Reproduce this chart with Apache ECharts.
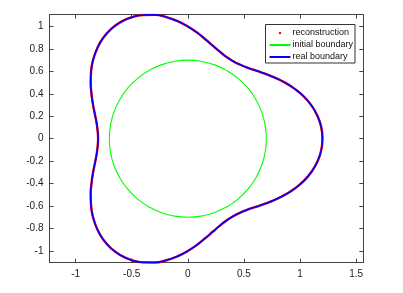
<!DOCTYPE html>
<html>
<head>
<meta charset="utf-8">
<script src="https://cdn.jsdelivr.net/npm/echarts@6/dist/echarts.min.js"></script>
<style>html,body{margin:0;padding:0;background:#fff}#c{width:403px;height:293px}</style>
</head>
<body>
<div id="c"></div>
<script>
// real boundary points
var boundaryX = [1.2, 1.189, 1.155, 1.103, 1.034, 0.953, 0.866, 0.777, 0.689, 0.607, 0.531, 0.463, 0.4, 0.341, 0.283, 0.222, 0.156, 0.083, 0, -0.092, -0.191, -0.295, -0.401, -0.504, -0.6, -0.684, -0.754, -0.807, -0.843, -0.862, -0.866, -0.859, -0.846, -0.829, -0.814, -0.804, -0.8,
  -0.804, -0.814, -0.829, -0.846, -0.859, -0.866, -0.862, -0.843, -0.807, -0.754, -0.684, -0.6, -0.504, -0.401, -0.295, -0.191, -0.092, 0, 0.083, 0.156, 0.222, 0.283, 0.341, 0.4, 0.463, 0.531, 0.607, 0.689, 0.777, 0.866, 0.953, 1.034, 1.103, 1.155, 1.189, 1.2];
var boundaryY = [0, 0.104, 0.204, 0.295, 0.376, 0.444, 0.5, 0.544, 0.579, 0.607, 0.633, 0.661, 0.693, 0.731, 0.777, 0.829, 0.886, 0.945, 1.0, 1.048, 1.083, 1.103, 1.102, 1.081, 1.039, 0.977, 0.899, 0.807, 0.707, 0.603, 0.5, 0.401, 0.308, 0.222, 0.144, 0.07, 0,
  -0.07, -0.144, -0.222, -0.308, -0.401, -0.5, -0.603, -0.707, -0.807, -0.899, -0.977, -1.039, -1.081, -1.102, -1.103, -1.083, -1.048, -1.0, -0.945, -0.886, -0.829, -0.777, -0.731, -0.693, -0.661, -0.633, -0.607, -0.579, -0.544, -0.5, -0.444, -0.376, -0.295, -0.204, -0.104, 0];
// reconstruction coincides with the real boundary
var reconX = boundaryX;
var reconY = boundaryY;
// initial boundary (circle of radius 0.7)
var initX = [0.7, 0.689, 0.658, 0.606, 0.536, 0.45, 0.35, 0.239, 0.122, 0, -0.122, -0.239, -0.35, -0.45, -0.536, -0.606, -0.658, -0.689, -0.7, -0.689, -0.658, -0.606, -0.536, -0.45, -0.35, -0.239, -0.122, 0, 0.122, 0.239, 0.35, 0.45, 0.536, 0.606, 0.658, 0.689, 0.7];
var initY = [0, 0.122, 0.239, 0.35, 0.45, 0.536, 0.606, 0.658, 0.689, 0.7, 0.689, 0.658, 0.606, 0.536, 0.45, 0.35, 0.239, 0.122, 0, -0.122, -0.239, -0.35, -0.45, -0.536, -0.606, -0.658, -0.689, -0.7, -0.689, -0.658, -0.606, -0.536, -0.45, -0.35, -0.239, -0.122, 0];
var xTicks = [-1, -0.5, 0, 0.5, 1, 1.5];
var yTicks = [-1, -0.8, -0.6, -0.4, -0.2, 0, 0.2, 0.4, 0.6, 0.8, 1];
var legendNames = ['reconstruction', 'initial boundary', 'real boundary'];

function pairs(xs, ys) { return xs.map(function (x, i) { return [x, ys[i]]; }); }

var font = 'Liberation Sans, Arial, sans-serif';
var axisCol = '#444';
function xAx(pos, labels) {
  return {
    type: 'value', position: pos, min: -1.233, max: 1.564,
    axisLine: { show: true, onZero: false, lineStyle: { color: axisCol, width: 1 } },
    axisTick: { show: true, inside: true, length: 4, customValues: xTicks, lineStyle: { color: axisCol } },
    axisLabel: { show: labels, customValues: xTicks, margin: 7, fontSize: 10, fontFamily: font, color: '#222' },
    splitLine: { show: false }
  };
}
function yAx(pos, labels) {
  return {
    type: 'value', position: pos, min: -1.105, max: 1.105,
    axisLine: { show: true, onZero: false, lineStyle: { color: axisCol, width: 1 } },
    axisTick: { show: true, inside: true, length: 4, customValues: yTicks, lineStyle: { color: axisCol } },
    axisLabel: { show: labels, customValues: yTicks, margin: 6, fontSize: 10, fontFamily: font, color: '#222' },
    splitLine: { show: false }
  };
}

var chart = echarts.init(document.getElementById('c'), null, { renderer: 'canvas' });
chart.setOption({
  animation: false,
  backgroundColor: '#fff',
  grid: { left: 49.5, right: 39.7, top: 14.7, bottom: 30.3, containLabel: false },
  xAxis: [xAx('bottom', true), xAx('top', false)],
  yAxis: [yAx('left', true), yAx('right', false)],
  series: [
    { name: legendNames[0], type: 'line', data: pairs(reconX, reconY), smooth: true, showSymbol: false,
      lineStyle: { color: '#ff0000', width: 2.4 }, z: 2 },
    { name: legendNames[1], type: 'line', data: pairs(initX, initY), smooth: true, showSymbol: false,
      lineStyle: { color: '#00ff00', width: 1.1 }, z: 3 },
    { name: legendNames[2], type: 'line', data: pairs(boundaryX, boundaryY), smooth: true, showSymbol: false,
      lineStyle: { color: '#0000ff', width: 1.6 }, z: 4 }
  ],
  graphic: [
    { type: 'rect', z: 100, shape: { x: 265.5, y: 24.5, width: 89.5, height: 38.5 },
      style: { fill: '#fff', stroke: '#333', lineWidth: 1 } },
    { type: 'circle', z: 101, shape: { cx: 280, cy: 33, r: 1.2 }, style: { fill: '#ff0000' } },
    { type: 'line', z: 101, shape: { x1: 269.5, y1: 45, x2: 290.5, y2: 45 }, style: { stroke: '#00ff00', lineWidth: 2 } },
    { type: 'line', z: 101, shape: { x1: 269.5, y1: 57, x2: 290.5, y2: 57 }, style: { stroke: '#0000ff', lineWidth: 2 } },
    { type: 'text', z: 101, x: 292.5, y: 33, style: { text: legendNames[0], font: '9px ' + font, fill: '#111', verticalAlign: 'middle' } },
    { type: 'text', z: 101, x: 292.5, y: 45, style: { text: legendNames[1], font: '9px ' + font, fill: '#111', verticalAlign: 'middle' } },
    { type: 'text', z: 101, x: 292.5, y: 57, style: { text: legendNames[2], font: '9px ' + font, fill: '#111', verticalAlign: 'middle' } }
  ]
});
</script>
</body>
</html>
